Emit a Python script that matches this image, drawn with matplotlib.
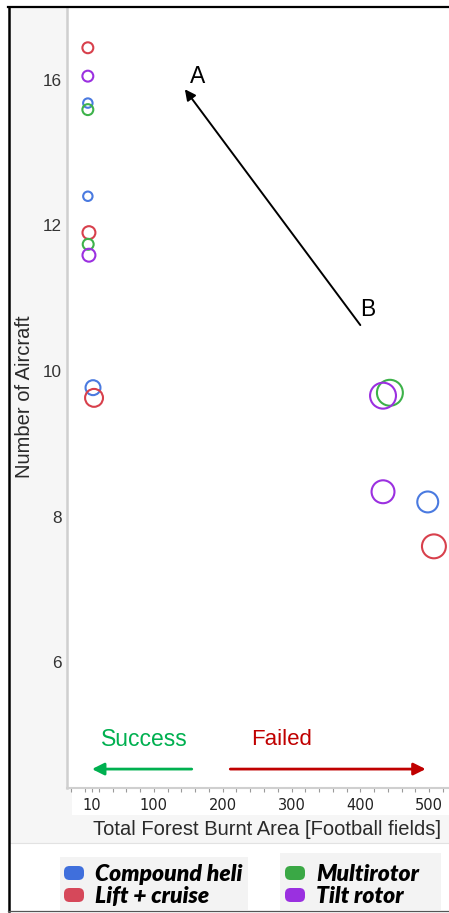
"""
Число летательных аппаратов в зависимости от площади выгоревшего леса.
"""

import matplotlib
matplotlib.use('Agg')
import matplotlib.pyplot as plt
from matplotlib.lines import Line2D
from matplotlib.patches import Rectangle, FancyBboxPatch
from matplotlib.ticker import MultipleLocator

# Данные
categories = ['Compound heli', 'Lift + cruise', 'Multirotor', 'Tilt rotor']

compound_area = [4, 4, 11.5, 498]
compound_count = [13.68, 12.40, 9.77, 8.20]

lift_area = [4, 5.6, 13, 507]
lift_count = [14.44, 11.90, 9.63, 7.59]

multi_area = [4, 4.5, 443]
multi_count = [13.59, 11.74, 9.70]

tilt_area = [4, 5.6, 433, 433]
tilt_count = [14.05, 11.59, 9.66, 8.34]

x_ticks = [10, 100, 200, 300, 400, 500]
y_ticks = [6, 8, 10, 12, 14]
y_tick_labels = ['6', '8', '10', '12', '16']

# Стиль
colors = ['#4a7ae0', '#d8404c', '#3db24a', '#9b30e0']
legend_colors = ['#3f6fdc', '#d6485a', '#3aa845', '#9a30e0']
# диаметры кружков в пикселях
marker_px = [
    [11.5, 11.5, 17, 23],
    [13, 15, 20, 26],
    [13, 13, 28],
    [13, 15, 28, 25],
]
EDGE_LW = 1.5

W, H = 449, 913
plt.rcParams['font.family'] = ['Liberation Sans', 'DejaVu Sans']


def fx(px):
    return px / W


def fy(py):
    return 1 - py / H


fig = plt.figure(figsize=(W / 100, H / 100), dpi=100)
fig.patch.set_facecolor('white')

# Серый фон вокруг области графика
fig.patches.append(Rectangle((fx(10), fy(843)), 1 - fx(10), (843 - 8) / H,
                             transform=fig.transFigure, facecolor='#f6f6f6',
                             edgecolor='none', zorder=-2))
fig.patches.append(Rectangle((fx(72), fy(815)), 1 - fx(72), (815 - 789) / H,
                             transform=fig.transFigure, facecolor='white',
                             edgecolor='none', zorder=-1))
fig.add_artist(Line2D([fx(10), 1], [fy(843), fy(843)], color='#e2e2e2', lw=0.8))

# Оси
ax = fig.add_axes([fx(67), fy(788), 1 - fx(67), (788 - 7) / H])
ax.set_facecolor('white')
ax.set_xlim(-26.3, 528.9)
ax.set_ylim(4.27, 15.0)

series = [
    (compound_area, compound_count),
    (lift_area, lift_count),
    (multi_area, multi_count),
    (tilt_area, tilt_count),
]
for (xs, ys), color, sizes in zip(series, colors, marker_px):
    s = [((d - EDGE_LW * 1.389) / 1.389) ** 2 for d in sizes]
    ax.scatter(xs, ys, s=s, facecolors='none', edgecolors=color,
               linewidths=EDGE_LW, zorder=3)

# Рамки осей
for side in ['top', 'right']:
    ax.spines[side].set_visible(False)
ax.spines['left'].set_color('#cfcfcf')
ax.spines['left'].set_linewidth(1.8)
ax.spines['bottom'].set_color('#cfcfcf')
ax.spines['bottom'].set_linewidth(1.5)

# Деления
ax.set_xticks(x_ticks)
ax.xaxis.set_minor_locator(MultipleLocator(20))
ax.tick_params(axis='x', which='both', length=3, width=0.8, color='#9a9a9a',
               labelsize=10.5, labelcolor='#222222', pad=4)
for label in ax.get_xticklabels():
    label.set_fontfamily('DejaVu Sans')
ax.set_yticks(y_ticks)
ax.set_yticklabels(y_tick_labels)
ax.tick_params(axis='y', length=0, labelsize=12.3, labelcolor='#333333', pad=4)

# Подписи осей
ax_w = W - 67
ax_h = 788 - 7
ax.set_xlabel('Total Forest Burnt Area [Football fields]', fontsize=14.5,
              color='#2a2a2a', va='center')
ax.xaxis.set_label_coords((267 - 67) / ax_w, -(829 - 788) / ax_h)
ax.set_ylabel('Number of Aircraft', fontsize=14.5, color='#2a2a2a', va='center')
ax.yaxis.set_label_coords(-(67 - 25) / ax_w, (788 - 397) / ax_h)

# Стрелка B -> A
ax.annotate('', xy=(145, 13.87), xytext=(400, 10.63),
            arrowprops=dict(arrowstyle='-|>', color='black', lw=1.4,
                            mutation_scale=16, shrinkA=0, shrinkB=0))
ax.text(164, 14.04, 'A', fontsize=16.5, ha='center', va='center')
ax.text(411, 10.84, 'B', fontsize=16.5, ha='center', va='center')

# Success / Failed
ax.annotate('', xy=(10, 4.53), xytext=(155, 4.53),
            arrowprops=dict(arrowstyle='-|>', color='#00b050', lw=2.0,
                            mutation_scale=18, shrinkA=0, shrinkB=0))
ax.annotate('', xy=(495, 4.53), xytext=(211, 4.53),
            arrowprops=dict(arrowstyle='-|>', color='#c00000', lw=2.0,
                            mutation_scale=18, shrinkA=0, shrinkB=0))
ax.text(86, 4.93, 'Success', fontsize=16.5, color='#00b050', ha='center', va='center')
ax.text(285, 4.93, 'Failed', fontsize=16, color='#c00000', ha='center', va='center')

# Рамка картинки
fig.add_artist(Line2D([fx(8.8), fx(8.8)], [fy(7), fy(911)], color='black', lw=1.8))
fig.add_artist(Line2D([fx(8), 1], [fy(7.5), fy(7.5)], color='black', lw=1.6))
fig.add_artist(Line2D([fx(8), 1], [fy(910.5), fy(910.5)], color='#555555', lw=0.9))

# Легенда
inch = fig.dpi_scale_trans


def ix(px):
    return px / 100


def iy(py):
    return (H - py) / 100


fig.patches.append(FancyBboxPatch((ix(60), iy(910)), ix(248 - 60), (910 - 857) / 100,
                                  boxstyle='square,pad=0', transform=inch,
                                  facecolor='#f3f3f3', edgecolor='none'))
fig.patches.append(FancyBboxPatch((ix(280), iy(910)), ix(441 - 280), (910 - 853) / 100,
                                  boxstyle='square,pad=0', transform=inch,
                                  facecolor='#f3f3f3', edgecolor='none'))
legend_pos = [(74, 873), (74, 895), (295, 873), (295, 895)]
for name, color, (mx, my) in zip(categories, legend_colors, legend_pos):
    fig.patches.append(FancyBboxPatch((ix(mx - 10), iy(my + 7)), 0.20, 0.14,
                                      boxstyle='round,pad=0,rounding_size=0.055',
                                      transform=inch, facecolor=color,
                                      edgecolor='none'))
    fig.text(fx(mx + 21), fy(my + 1), name, fontsize=16.5, fontweight='heavy',
             fontstyle='italic', va='center', ha='left', color='black',
             family=['Lato', 'DejaVu Sans'])

plt.savefig('out.png', dpi=100)
plt.close(fig)
